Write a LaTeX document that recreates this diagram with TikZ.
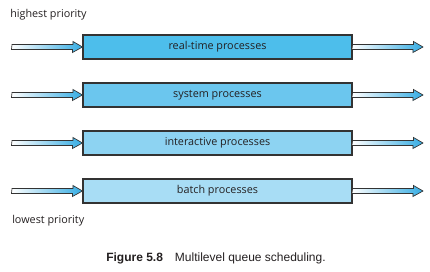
\documentclass[tikz,border=0pt]{standalone}
\usepackage{fontspec}
\setmainfont{Open Sans}
\newfontfamily\capfont{Liberation Sans}
\definecolor{boxA}{HTML}{4DBEEB}
\definecolor{boxB}{HTML}{6BC6EE}
\definecolor{boxC}{HTML}{8DD3F2}
\definecolor{boxD}{HTML}{A8DDF5}
\definecolor{arrblue}{HTML}{35ACE3}
\definecolor{edge}{HTML}{333333}
\definecolor{txt}{HTML}{231F20}
\begin{document}
\begin{tikzpicture}[x=0.75pt,y=-0.75pt,
  qbox/.style={draw=edge,line width=0.8pt,minimum width=269*0.75pt,minimum height=24*0.75pt,inner sep=0pt,text=txt,font=\fontsize{8.1}{9}\selectfont},
  lbl/.style={font=\fontsize{8.1}{9}\selectfont,anchor=west,inner sep=0pt,text=txt},
  arr/.style={draw=edge,line width=0.5pt,left color=white,right color=arrblue}
]
\useasboundingbox (0,0) rectangle (430,272);
\node[lbl] (hi) at (10,15) {highest priority};
\node[lbl] (lo) at (12,221) {lowest priority};
\foreach \y/\c/\t/\n in {47/boxA/real-time processes/q1,95/boxB/system processes/q2,143/boxC/interactive processes/q3,191/boxD/batch processes/q4}{
  \node[qbox,fill=\c] (\n) at (217.5,\y) {\t};
  \coordinate (\n inL) at (12,\y);
  \coordinate (\n outR) at (423,\y);
  \path[arr] (\n inL) ++(0,-2.5) -- ++(61,0) -- ++(0,-3) -- (\n.west) -- ++(-10,5.5) -- ++(0,-3) -- ++(-61,0) -- cycle;
  \path[arr] (\n.east) ++(0,-2.5) -- ++(61,0) -- ++(0,-3) -- (\n outR) -- ++(-10,5.5) -- ++(0,-3) -- ++(-61,0) -- cycle;
}
\node[font=\capfont\fontsize{9}{11}\selectfont,inner sep=0pt,text=txt] (cap) at (216,258) {\textbf{Figure 5.8}\quad Multilevel queue scheduling.};
\end{tikzpicture}
\end{document}
